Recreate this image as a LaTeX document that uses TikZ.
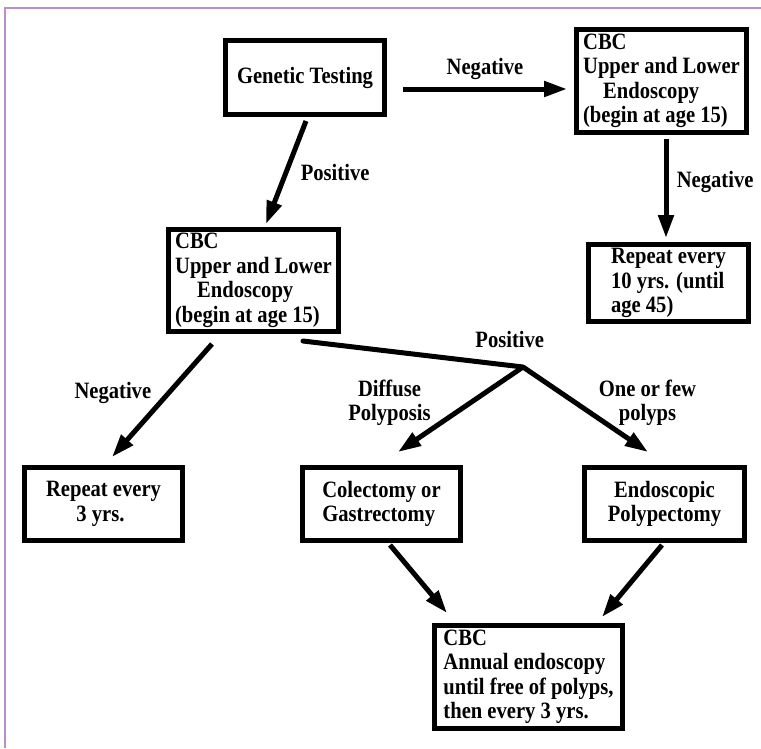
\documentclass[tikz,border=0pt]{standalone}
\usepackage{fontspec}
\setmainfont{Liberation Serif}[FakeStretch=0.88]
\usepackage{tikz}
\usetikzlibrary{arrows.meta,calc,positioning}
\definecolor{frameviolet}{RGB}{186,142,198}
\tikzset{%
	box/.style  = {draw, rectangle, line width=5pt, font=\bfseries\fontsize{23.4}{24.5}\selectfont},
	note/.style = {font=\bfseries\fontsize{23.4}{24.5}\selectfont, align=center},
	flow/.style = {line width=5pt, -{Triangle[length=23pt,width=15pt]}},
	link/.style = {line width=5pt, line cap=round},
}

\begin{document}
\begin{tikzpicture}[x=1pt,y=-1pt]
	\useasboundingbox (0,0) rectangle (761,748);
	\draw[frameviolet, line width=2pt] (761,7.5) -- (5,7.5) -- (5,748);

	\node [box, minimum width=159pt, minimum height=74pt] (gen) at (305,77.5) {Genetic Testing};
	\node [box, align=left, minimum width=170pt, minimum height=103pt] (cbcR) at (661.5,81) {CBC\\Upper and Lower\\\hspace*{20pt}Endoscopy\\(begin at age 15)};
	\node [box, align=left, minimum width=160pt, minimum height=77pt] (rep10) at (668.5,283) {Repeat every\\10 yrs. (until\\age 45)};
	\node [box, align=left, minimum width=170pt, minimum height=102pt] (cbcL) at (253.5,280.5) {CBC\\Upper and Lower\\\hspace*{22pt}Endoscopy\\(begin at age 15)};
	\node [box, align=center, minimum width=158pt, minimum height=73pt] (rep3) at (103.5,504) {Repeat every\\3 yrs.\hspace*{6pt}};
	\node [box, align=left, minimum width=158pt, minimum height=73pt] (colect) at (381.5,504) {Colectomy or\\Gastrectomy};
	\node [box, align=center, minimum width=160pt, minimum height=73pt] (endo) at (664.5,504) {Endoscopic\\Polypectomy};
	\node [box, align=left, minimum width=188pt, minimum height=103pt] (cbcB) at (528.5,677) {CBC\\Annual endoscopy\\until free of polyps,\\then every 3 yrs.};
	\coordinate (split) at (523,367);

	\draw[flow] ([xshift=16pt,yshift=-11.5pt]gen.east) -- node[note, above=4pt] {Negative} ([xshift=-7pt,yshift=-8pt]cbcR.west);
	\draw[flow] ([xshift=1pt,yshift=-4pt]gen.south) -- node[note, right=9pt] {Positive} ([xshift=12.5pt,yshift=3pt]cbcL.north);
	\draw[flow] ([xshift=4.5pt,yshift=-4pt]cbcR.south) -- node[note, pos=0.43, right=5pt] {Negative} ([xshift=-2.5pt,yshift=4pt]rep10.north);
	\draw[flow] ([xshift=-41.5pt,yshift=-10pt]cbcL.south) -- node[note, pos=0.43, left=12pt] {Negative} ([xshift=8.5pt,yshift=8pt]rep3.north);
	\draw[link] ([xshift=49.5pt,yshift=-7pt]cbcL.south) -- node[note, pos=0.94, above=12pt] {Positive} (split);
	\draw[flow] (split) -- node[note, pos=0.42, left=34pt] {Diffuse\\Polyposis} ([xshift=16.5pt,yshift=13pt]colect.north);
	\draw[flow] (split) -- node[note, pos=0.42, right=17.5pt] {One or few\\polyps} ([xshift=-16.5pt,yshift=13pt]endo.north);
	\draw[flow] ([xshift=8.5pt,yshift=-2pt]colect.south) -- ([xshift=-81.5pt,yshift=10pt]cbcB.north);
	\draw[flow] ([xshift=-2.5pt,yshift=-2pt]endo.south) -- ([xshift=73.5pt,yshift=6pt]cbcB.north);
\end{tikzpicture}
\end{document}
